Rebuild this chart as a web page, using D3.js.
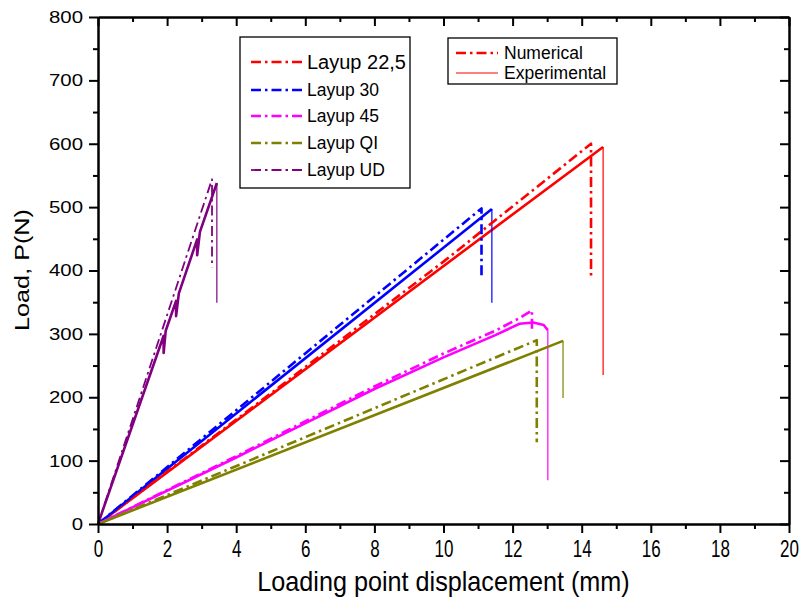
<!DOCTYPE html>
<html>
<head>
<meta charset="utf-8">
<script src="https://cdn.jsdelivr.net/npm/d3@7"></script>
<style>
body { margin:0; background:#fff; }
svg { display:block; }
</style>
</head>
<body>
<svg id="chart" width="804" height="606"></svg>
<script>
// axis setup
var xMajor = [0,2,4,6,8,10,12,14,16,18,20];
var xMinor = [1,3,5,7,9,11,13,15,17,19];
var yMajor = [0,100,200,300,400,500,600,700,800];
var yMinor = [50,150,250,350,450,550,650,750];

var layups = ["Layup 22,5","Layup 30","Layup 45","Layup QI","Layup UD"];
var colors = ["#ff0000","#0000ff","#ff00ff","#808000","#800080"];

// experimental curves [displacement mm, load N]
var exp225 = [[0,0],[14.62,595],[14.62,235]];
var exp30 = [[0,0],[11.4,497],[11.4,349]];
var exp45 = [[0,0],[4,105],[8,213],[10,263],[11.5,298],[12.2,316],[12.6,318],[12.9,314],[13.02,306],[13.02,69]];
var expQI = [[0,0],[13.46,289],[13.46,199]];
var expUD = [[0,0],[1.9,297],[1.9,270],[1.96,305],[2.26,352],[2.26,328],[2.34,364],[2.87,449],[2.87,424],[2.95,461],[3.44,538],[3.44,349]];

// numerical curves
var num225 = [[0,0],[5,206],[10,414],[14.27,600],[14.27,390]];
var num30 = [[0,0],[11.1,498],[11.1,390]];
var num45 = [[0,0],[4,107],[8,217],[10,269],[11.5,305],[12.2,325],[12.56,337],[12.56,306]];
var numQI = [[0,0],[12.7,290],[12.7,129]];
var numUD = [[0,0],[3.3,544],[3.3,405]];

var expData = [exp225,exp30,exp45,expQI,expUD];
var numData = [num225,num30,num45,numQI,numUD];

var svg = d3.select("#chart");
var L = 98, R = 789, T = 17, B = 524;

var x = d3.scaleLinear().domain([0,20]).range([L,R]);
var y = d3.scaleLinear().domain([0,800]).range([B,T]);

var line = d3.line().x(function(d){ return x(d[0]); }).y(function(d){ return y(d[1]); });

// curves
var g = svg.append("g").attr("class","curves");
expData.forEach(function(pts,i){
    g.append("path")
        .attr("d", line(pts.slice(0,pts.length-1)))
        .attr("fill","none")
        .attr("stroke",colors[i])
        .attr("stroke-width",2.6)
        .attr("stroke-linejoin","round");
    g.append("path")
        .attr("d", line(pts.slice(pts.length-2)))
        .attr("fill","none")
        .attr("stroke",colors[i])
        .attr("stroke-width",1.2);
});
numData.forEach(function(pts,i){
    g.append("path")
        .attr("d", line(pts))
        .attr("fill","none")
        .attr("stroke",colors[i])
        .attr("stroke-width", i==4 ? 1.8 : 2.6)
        .attr("stroke-dasharray","10,4,2.5,4")
        .attr("stroke-linejoin","round");
});

// axes
var sans = "Arial,'Liberation Sans',sans-serif";
var xAxis = svg.append("g").attr("transform","translate(0,"+B+")")
    .call(d3.axisBottom(x).tickValues(xMajor).tickSize(9).tickSizeOuter(0).tickPadding(8));
svg.append("g").attr("transform","translate(0,"+B+")")
    .call(d3.axisBottom(x).tickValues(xMinor).tickSize(5).tickSizeOuter(0).tickFormat(""));
var yAxis = svg.append("g").attr("transform","translate("+L+",0)")
    .call(d3.axisLeft(y).tickValues(yMajor).tickSize(9).tickSizeOuter(0).tickPadding(0));
svg.append("g").attr("transform","translate("+L+",0)")
    .call(d3.axisLeft(y).tickValues(yMinor).tickSize(5).tickSizeOuter(0).tickFormat(""));
// top and right frame, inward ticks
svg.append("g").attr("transform","translate(0,"+T+")")
    .call(d3.axisBottom(x).tickValues(xMajor).tickSize(9).tickSizeOuter(0).tickFormat(""));
svg.append("g").attr("transform","translate(0,"+T+")")
    .call(d3.axisBottom(x).tickValues(xMinor).tickSize(5).tickSizeOuter(0).tickFormat(""));
svg.append("g").attr("transform","translate("+R+",0)")
    .call(d3.axisLeft(y).tickValues(yMajor).tickSize(9).tickSizeOuter(0).tickFormat(""));
svg.append("g").attr("transform","translate("+R+",0)")
    .call(d3.axisLeft(y).tickValues(yMinor).tickSize(5).tickSizeOuter(0).tickFormat(""));

svg.selectAll(".domain").attr("stroke","#000").attr("stroke-width",2);
svg.selectAll(".tick line").attr("stroke","#000").attr("stroke-width",2);
// condensed x labels, widened y labels (as in the source figure)
xAxis.selectAll("text").attr("font-family",sans).attr("font-size",23).attr("fill","#000")
    .attr("transform","scale(0.74,1)");
yAxis.selectAll("text").attr("font-family",sans).attr("font-size",17).attr("fill","#000")
    .attr("x",null)
    .attr("transform","translate(-15,0) scale(1.2,1)");

// axis titles
svg.append("g").attr("transform","translate("+((L+R)/2)+",591) scale(0.9,1)")
  .append("text")
    .attr("text-anchor","middle")
    .attr("font-family",sans).attr("font-size",28)
    .text("Loading point displacement (mm)");
svg.append("g").attr("transform","translate(29,270) rotate(-90) scale(1.2,1)")
  .append("text")
    .attr("text-anchor","middle")
    .attr("font-family",sans).attr("font-size",21)
    .text("Load, P(N)");

// legend 1: layups
var leg1 = svg.append("g");
leg1.append("rect").attr("x",240).attr("y",37).attr("width",170).attr("height",151)
    .attr("fill","#fff").attr("stroke","#000").attr("stroke-width",1.3);
var rowsY = [62,90,116,143,170];
layups.forEach(function(name,i){
    leg1.append("line")
        .attr("x1",251).attr("x2",302).attr("y1",rowsY[i]).attr("y2",rowsY[i])
        .attr("stroke",colors[i]).attr("stroke-width", i==4 ? 1.8 : 2.6)
        .attr("stroke-dasharray","10,4,2.5,4");
    leg1.append("text")
        .attr("x",307).attr("y",rowsY[i]).attr("dy","0.35em")
        .attr("font-family",sans)
        .attr("font-size", i==0 ? 20 : 17.5)
        .text(name);
});

// legend 2: numerical vs experimental
var kinds = ["Numerical","Experimental"];
var leg2 = svg.append("g");
leg2.append("rect").attr("x",448).attr("y",38).attr("width",169).attr("height",46)
    .attr("fill","#fff").attr("stroke","#000").attr("stroke-width",1.3);
var rows2 = [53,73];
kinds.forEach(function(k,i){
    leg2.append("line")
        .attr("x1",456).attr("x2",498).attr("y1",rows2[i]).attr("y2",rows2[i])
        .attr("stroke","#ff0000").attr("stroke-width", i==0 ? 2.6 : 1.2)
        .attr("stroke-dasharray", i==0 ? "10,4,2.5,4" : null);
    leg2.append("text")
        .attr("x",504).attr("y",rows2[i]).attr("dy","0.35em")
        .attr("font-family",sans)
        .attr("font-size",17.5)
        .text(k);
});
</script>
</body>
</html>
